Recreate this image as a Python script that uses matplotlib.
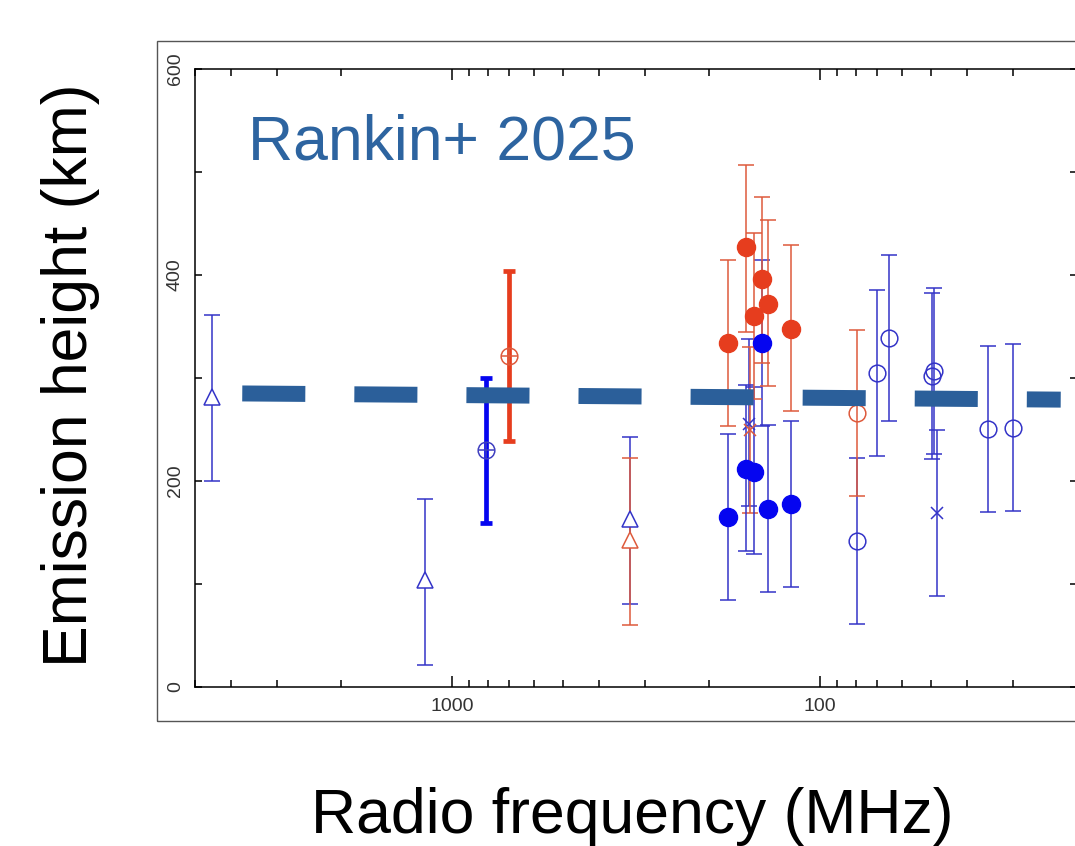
import numpy as np
import matplotlib.pyplot as plt
from matplotlib.patches import Rectangle
from matplotlib.ticker import FixedLocator, FuncFormatter, NullFormatter

plt.rcParams['font.family'] = ['Liberation Sans', 'DejaVu Sans']
plt.rcParams['lines.scale_dashes'] = False

# ---- data (frequency MHz, height km, lower, upper) ----
red_fill_f = [178.6, 159.2, 151.0, 143.5, 139.0, 120.2]
red_fill_h = [334, 427, 360, 396, 372, 348]
red_fill_lo = [253, 345, 280, 315, 292, 268]
red_fill_hi = [415, 507, 441, 476, 453, 429]

blue_fill_f = [178.6, 159.2, 151.0, 143.5, 139.0, 120.2]
blue_fill_h = [165, 212, 209, 334, 173, 178]
blue_fill_lo = [84, 132, 129, 253, 92, 97]
blue_fill_hi = [246, 293, 291, 415, 254, 258]

blue_circ_f = [79.2, 69.9, 64.9, 49.8, 49.0, 35.0, 30.0]
blue_circ_h = [142, 304.5, 338.5, 302, 307, 250.5, 251]
blue_circ_lo = [61, 224, 258, 221, 226, 170, 171]
blue_circ_hi = [222, 385, 419, 383, 387, 331, 333]

red_circ_f = [79.2]
red_circ_h = [266]
red_circ_lo = [185]
red_circ_hi = [347]

blue_tri_f = [4500, 1184, 328]
blue_tri_h = [281.5, 104, 163]
blue_tri_lo = [200, 21, 81]
blue_tri_hi = [361, 183, 243]

red_tri_f = [328]
red_tri_h = [143]
red_tri_lo = [60]
red_tri_hi = [222]

blue_x_f = [156, 48]
blue_x_h = [255, 168.5]
blue_x_lo = [176, 88]
blue_x_hi = [338, 249.5]

red_x_f = [155]
red_x_h = [249.5]
red_x_lo = [169]
red_x_hi = [330]

# thick bars with circled-plus points
blue_thick_f = [807]
blue_thick_h = [230]
blue_thick_lo = [159.5]
blue_thick_hi = [300.3]

red_thick_f = [703]
red_thick_h = [321]
red_thick_lo = [239]
red_thick_hi = [404]

fit_f = [3720, 22.2]
fit_h = [285, 279]

BLUE_BAR = '#3434c8'
BLUE_FILL = '#0505f0'
RED_BAR = '#de5a3c'
RED_FILL = '#e63d1e'
FIT = '#2b5f9a'


def err(h, lo, hi):
    h = np.array(h, float)
    return [h - np.array(lo, float), np.array(hi, float) - h]


fig = plt.figure(figsize=(10.75, 8.46), dpi=100)
W, H = 1075.0, 846.0
ax = fig.add_axes([195 / W, (H - 687) / H, 882.4 / W, 618 / H])

# outer frame of the embedded figure
fig.patches.append(Rectangle((157 / W, (H - 721) / H), 1.0, (721 - 41) / H,
                             transform=fig.transFigure, fill=False,
                             edgecolor='#555555', lw=1.0))

ax.set_xscale('log')
ax.set_xlim(5000, 20)
ax.set_ylim(0, 600)

thin = dict(fmt='none', elinewidth=1.1, capsize=5.5, capthick=1.1)

ax.errorbar(blue_tri_f, blue_tri_h, yerr=err(blue_tri_h, blue_tri_lo, blue_tri_hi), ecolor=BLUE_BAR, **thin)
ax.errorbar(red_tri_f, red_tri_h, yerr=err(red_tri_h, red_tri_lo, red_tri_hi), ecolor=RED_BAR, **thin)
ax.errorbar(blue_circ_f, blue_circ_h, yerr=err(blue_circ_h, blue_circ_lo, blue_circ_hi), ecolor=BLUE_BAR, **thin)
ax.errorbar(red_circ_f, red_circ_h, yerr=err(red_circ_h, red_circ_lo, red_circ_hi), ecolor=RED_BAR, **thin)
ax.errorbar(blue_x_f, blue_x_h, yerr=err(blue_x_h, blue_x_lo, blue_x_hi), ecolor=BLUE_BAR, **thin)
ax.errorbar(red_x_f, red_x_h, yerr=err(red_x_h, red_x_lo, red_x_hi), ecolor=RED_BAR, **thin)
ax.errorbar(blue_fill_f, blue_fill_h, yerr=err(blue_fill_h, blue_fill_lo, blue_fill_hi), ecolor=BLUE_BAR, **thin)
ax.errorbar(red_fill_f, red_fill_h, yerr=err(red_fill_h, red_fill_lo, red_fill_hi), ecolor=RED_BAR, **thin)

thick = dict(fmt='none', elinewidth=3.4, capsize=4.5, capthick=3.4)
ax.errorbar(blue_thick_f, blue_thick_h, yerr=err(blue_thick_h, blue_thick_lo, blue_thick_hi), ecolor=BLUE_FILL, **thick)
ax.errorbar(red_thick_f, red_thick_h, yerr=err(red_thick_h, red_thick_lo, red_thick_hi), ecolor=RED_FILL, **thick)

# markers
ax.plot(blue_tri_f, blue_tri_h, '^', ms=12, mfc='white', mec=BLUE_BAR, mew=1.1, ls='none')
ax.plot(red_tri_f, red_tri_h, '^', ms=12, mfc='white', mec=RED_BAR, mew=1.1, ls='none')
ax.plot(blue_circ_f, blue_circ_h, 'o', ms=12, mfc='none', mec=BLUE_BAR, mew=1.1, ls='none')
ax.plot(red_circ_f, red_circ_h, 'o', ms=12, mfc='none', mec=RED_BAR, mew=1.1, ls='none')
ax.plot(blue_x_f, blue_x_h, 'x', ms=8, mec=BLUE_BAR, mew=1.1, ls='none')
ax.plot(red_x_f, red_x_h, 'x', ms=8, mec=RED_BAR, mew=1.1, ls='none')
ax.plot(blue_thick_f, blue_thick_h, 'o', ms=12, mfc='none', mec='#4040c0', mew=1.1, ls='none')
ax.plot(blue_thick_f, blue_thick_h, '+', ms=12, mec='#4040c0', mew=1.1, ls='none')
ax.plot(red_thick_f, red_thick_h, 'o', ms=12, mfc='none', mec=RED_BAR, mew=1.1, ls='none')
ax.plot(red_thick_f, red_thick_h, '+', ms=12, mec=RED_BAR, mew=1.1, ls='none')
ax.plot(red_fill_f, red_fill_h, 'o', ms=13, mfc=RED_FILL, mec=RED_FILL, ls='none')
ax.plot(blue_fill_f, blue_fill_h, 'o', ms=13, mfc=BLUE_FILL, mec=BLUE_FILL, ls='none')

# fitted dashed line on top
ax.plot(fit_f, fit_h, color=FIT, lw=11.5, dashes=(45.4, 35.3),
        solid_capstyle='butt', dash_capstyle='butt', zorder=10)

ax.text(0.06, 0.853, 'Rankin+ 2025', transform=ax.transAxes, fontsize=45,
        color='#2d64a0', ha='left', va='baseline')

# ticks
ax.xaxis.set_major_locator(FixedLocator([1000, 100]))
ax.xaxis.set_minor_locator(FixedLocator([5000, 4000, 3000, 2000, 900, 800, 700, 600,
                                         500, 400, 300, 200, 90, 80, 70, 60, 50, 40, 30, 20]))
ax.xaxis.set_major_formatter(FuncFormatter(lambda v, p: '%d' % v))
ax.xaxis.set_minor_formatter(NullFormatter())
ax.yaxis.set_major_locator(FixedLocator([0, 100, 200, 300, 400, 500, 600]))
ax.yaxis.set_major_formatter(FuncFormatter(lambda v, p: '%d' % v if v % 200 == 0 else ''))
ax.tick_params(which='both', direction='in', top=True, right=True, width=1.1,
               labelsize=14, labelcolor='#333333')
ax.tick_params(axis='x', which='major', length=8, pad=8)
ax.tick_params(axis='x', which='minor', length=5)
ax.tick_params(axis='y', which='major', length=5, pad=8, labelrotation=90)
for lab in ax.get_yticklabels():
    lab.set_va('center')
for s in ax.spines.values():
    s.set_linewidth(1.1)

fig.text(71 / W, (H - 375) / H, 'Emission height (km)', rotation=90, fontsize=45,
         ha='center', va='center')
fig.text(632 / W, (H - 833) / H, 'Radio frequency (MHz)', fontsize=45,
         ha='center', va='baseline')

fig.savefig('out.png', dpi=100)
